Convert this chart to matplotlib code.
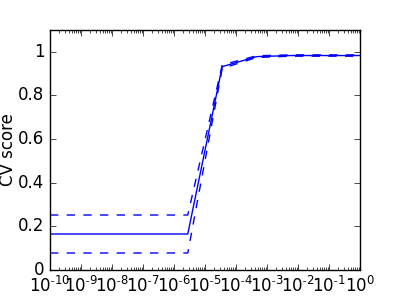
import numpy as np
import matplotlib
matplotlib.use("Agg")
import matplotlib.pyplot as plt

plt.style.use("classic")

# C values and cross-validation scores
C_s = [1e-10, 1.29e-9, 1.67e-8, 2.15e-7, 2.78e-6, 3.59e-5, 4.64e-4, 5.99e-3, 7.74e-2, 1.0]
scores = [0.165, 0.165, 0.165, 0.165, 0.165, 0.932, 0.978, 0.983, 0.983, 0.983]
scores_std = [0.087, 0.087, 0.087, 0.087, 0.087, 0.008, 0.004, 0.003, 0.003, 0.003]
exponents = list(range(-10, 1))

scores = np.array(scores)
scores_std = np.array(scores_std)

fig = plt.figure(figsize=(4, 3), dpi=100)
fig.subplots_adjust(left=0.125, right=0.9, bottom=0.1, top=0.9)
ax = fig.add_subplot(111)
ax.semilogx(C_s, scores, "b-")
ax.semilogx(C_s, scores + scores_std, "b--")
ax.semilogx(C_s, scores - scores_std, "b--")
ax.set_xlim(1e-10, 1)
ax.set_ylim(0, 1.1)
ax.set_yticks([0, 0.2, 0.4, 0.6, 0.8, 1])
ax.set_yticklabels(["0", "0.2", "0.4", "0.6", "0.8", "1"])
ax.set_xticks([10.0 ** k for k in exponents])
ax.set_xticklabels([r"$\mathdefault{10^{\text{-}%d}}$" % -k if k < 0
                    else r"$\mathdefault{10^{0}}$" for k in exponents])
ax.set_ylabel("CV score")
ax.yaxis.set_label_coords(-0.105, 0.5)

fig.savefig("out.png", dpi=100, facecolor="white")
